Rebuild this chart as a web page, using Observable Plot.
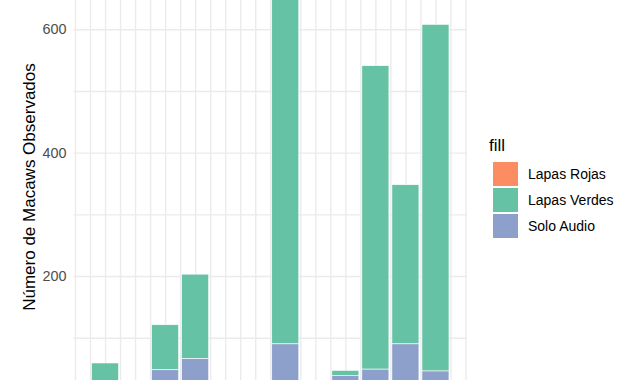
<!DOCTYPE html>
<html>
<head>
<meta charset="utf-8">
<script src="https://cdn.jsdelivr.net/npm/d3@7"></script>
<script src="https://cdn.jsdelivr.net/npm/@observablehq/plot@0.6"></script>
<style>
html, body { margin: 0; padding: 0; background: #fff; overflow: hidden; }
#wrap { position: relative; width: 627px; height: 380px; overflow: hidden; font-family: "Liberation Sans", Arial, sans-serif; }
#wrap svg { position: absolute; left: 0; top: 0; }
.ytitle { position: absolute; left: 29px; top: 187px; transform: translate(-50%, -50%) rotate(-90deg); white-space: nowrap; font-size: 17px; color: #000; line-height: 1; }
.ltitle { position: absolute; left: 489px; top: 137px; font-size: 17px; line-height: 17px; color: #000; }
.lkey { position: absolute; left: 492.5px; width: 25px; height: 24px; }
.ltext { position: absolute; left: 528px; font-size: 14px; line-height: 16px; color: #000; white-space: nowrap; }
</style>
</head>
<body>
<div id="wrap"></div>
<script>
// ---- data ----
const months = [1, 3, 4, 7, 9, 10, 11, 12];
const series = ["Lapas Rojas", "Lapas Verdes", "Solo Audio"];
const seriesColors = ["#FC8D62", "#66C2A5", "#8DA0CB"];
const lapasRojas  = [0, 0, 0, 0, 0, 0, 0, 0];
const lapasVerdes = [59, 73, 137, 610, 8, 492, 258, 562];
const soloAudio   = [0, 48, 66, 90, 39, 49, 90, 46];
const yTicks = [200, 400, 600];
const yMinor = [100, 300, 500];
const xGrid = [0, 0.5, 1, 1.5, 2, 2.5, 3, 3.5, 4, 4.5, 5, 5.5, 6, 6.5, 7, 7.5, 8, 8.5, 9, 9.5, 10, 10.5, 11, 11.5, 12, 12.5, 13];
const yTitle = "Número de Macaws Observados";
const legendTitle = "fill";

const valuesBySeries = {"Lapas Rojas": lapasRojas, "Lapas Verdes": lapasVerdes, "Solo Audio": soloAudio};
const rows = [];
months.forEach((m, i) => {
  series.forEach(s => rows.push({month: m, series: s, value: valuesBySeries[s][i]}));
});

const chart = Plot.plot({
  width: 627,
  height: 380,
  marginLeft: 73.5,
  marginRight: 160,
  marginTop: 0,
  marginBottom: 0,
  style: {fontFamily: "Liberation Sans, Arial, sans-serif", background: "white", overflow: "hidden"},
  x: {domain: [-0.05, 13.05], axis: null},
  y: {domain: [31.4, 647.5], axis: null},
  color: {domain: series, range: seriesColors},
  marks: [
    Plot.ruleY(yMinor.concat(yTicks), {stroke: "#EBEBEB", strokeWidth: 1.4}),
    Plot.ruleX(xGrid, {stroke: "#EBEBEB", strokeWidth: 1.4}),
    Plot.rectY(rows, {
      x1: d => d.month - 0.45,
      x2: d => d.month + 0.45,
      y: "value",
      fill: "series",
      order: ["Solo Audio", "Lapas Verdes", "Lapas Rojas"],
      stroke: "white",
      strokeWidth: 0.6,
      clip: true
    }),
    Plot.axisY(yTicks, {tickSize: 0, tickPadding: 7.5, fontSize: 14.4, fill: "#4D4D4D", label: null})
  ]
});

const wrap = document.getElementById("wrap");
wrap.appendChild(chart);

const t = document.createElement("div");
t.className = "ytitle";
t.textContent = yTitle;
wrap.appendChild(t);

const lt = document.createElement("div");
lt.className = "ltitle";
lt.textContent = legendTitle;
wrap.appendChild(lt);

series.forEach((s, i) => {
  const k = document.createElement("div");
  k.className = "lkey";
  k.style.top = (161.5 + i * 26) + "px";
  k.style.background = seriesColors[i];
  wrap.appendChild(k);
  const tx = document.createElement("div");
  tx.className = "ltext";
  tx.style.top = (165.7 + i * 26) + "px";
  tx.textContent = s;
  wrap.appendChild(tx);
});
</script>
</body>
</html>
